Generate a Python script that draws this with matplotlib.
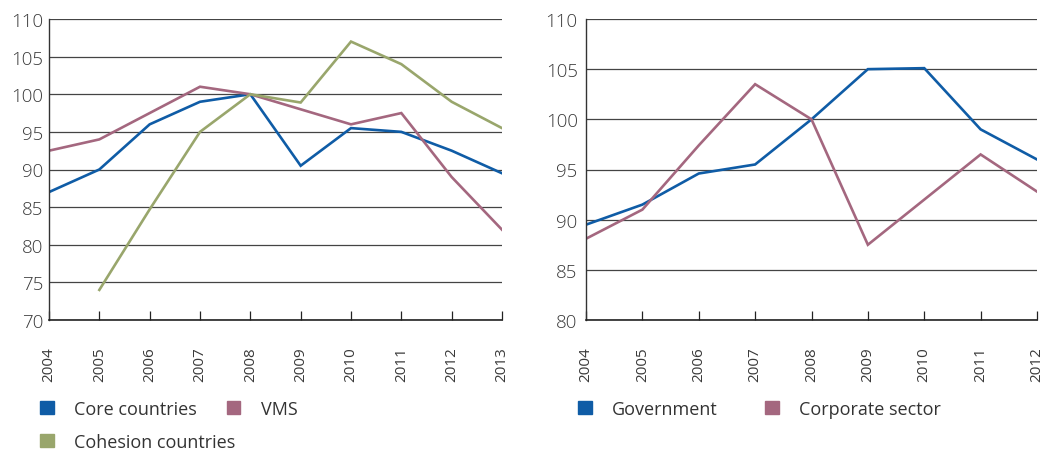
import matplotlib.pyplot as plt
from matplotlib.patches import Patch
import numpy as np

# left panel
years_left = [2004, 2005, 2006, 2007, 2008, 2009, 2010, 2011, 2012, 2013]
core = [87, 90, 96, 99, 100, 90.5, 95.5, 95, 92.5, 89.5]
vms = [92.5, 94, 97.5, 101, 100, 98, 96, 97.5, 89, 82]
cohesion = [np.nan, 74, 84.7, 95, 100, 98.9, 107, 104, 99, 95.5]

# right panel
years_right = [2004, 2005, 2006, 2007, 2008, 2009, 2010, 2011, 2012]
government = [89.5, 91.5, 94.6, 95.5, 100, 105, 105.1, 99, 96]
corporate = [88.1, 91, 97.4, 103.5, 100, 87.5, 92, 96.5, 92.8]

BLUE = '#0F5CA6'
MAUVE = '#A4677F'
OLIVE = '#99A66C'
TXT = '#3a3a3a'

plt.rcParams['font.family'] = ['Open Sans', 'DejaVu Sans']

fig = plt.figure(figsize=(10.45, 4.52), dpi=100)
ax1 = fig.add_axes([49 / 1045, 1 - 321 / 452, (502 - 49) / 1045, 301 / 452])
ax2 = fig.add_axes([586 / 1045, 1 - 321 / 452, (1037 - 586) / 1045, 301 / 452])


def style(ax, years, ylo, yhi, ypad):
    ax.set_xlim(years[0], years[-1])
    ax.set_ylim(ylo, yhi)
    ax.set_xticks(years)
    ax.set_xticklabels([str(y) for y in years], rotation=90)
    ax.set_yticks(np.arange(ylo, yhi + 1, 5))
    for s in ['top', 'right']:
        ax.spines[s].set_visible(False)
    ax.spines['left'].set_color('#333333')
    ax.spines['bottom'].set_color('#222222')
    ax.spines['left'].set_linewidth(1.0)
    ax.spines['bottom'].set_linewidth(1.2)
    ax.yaxis.grid(True, color='#444444', linewidth=0.9)
    ax.set_axisbelow(True)
    ax.tick_params(axis='x', direction='in', length=6.5, width=0.9,
                   pad=19, labelsize=11, colors='#222222')
    ax.tick_params(axis='x', labelcolor=TXT)
    ax.tick_params(axis='y', length=0, pad=ypad, labelsize=13.5, labelcolor=TXT)
    for lab in ax.get_yticklabels():
        lab.set_fontweight('light')


lw = 1.9
ax1.plot(years_left, core, color=BLUE, lw=lw, solid_joinstyle='miter')
ax1.plot(years_left, vms, color=MAUVE, lw=lw, solid_joinstyle='miter')
ax1.plot(years_left, cohesion, color=OLIVE, lw=lw, solid_joinstyle='miter')
style(ax1, years_left, 70, 110, 4)

ax2.plot(years_right, government, color=BLUE, lw=lw, solid_joinstyle='miter')
ax2.plot(years_right, corporate, color=MAUVE, lw=lw, solid_joinstyle='miter')
style(ax2, years_right, 80, 110, 6)

leg_kw = dict(frameon=False, handlelength=0.75, handleheight=0.75,
              handletextpad=1.15, borderaxespad=0, borderpad=0,
              prop={'size': 13}, labelcolor='#333333',
              loc='center left')

fig.legend(handles=[Patch(color=BLUE, label='Core countries'),
                    Patch(color=MAUVE, label='VMS')],
           ncol=2, columnspacing=1.65,
           bbox_to_anchor=(40 / 1045, 1 - 410 / 452), **leg_kw)
fig.legend(handles=[Patch(color=OLIVE, label='Cohesion countries')],
           bbox_to_anchor=(40 / 1045, 1 - 443 / 452), **leg_kw)
fig.legend(handles=[Patch(color=BLUE, label='Government'),
                    Patch(color=MAUVE, label='Corporate sector')],
           ncol=2, columnspacing=2.6,
           bbox_to_anchor=(578 / 1045, 1 - 410 / 452), **leg_kw)

fig.savefig('out.png', dpi=100)
